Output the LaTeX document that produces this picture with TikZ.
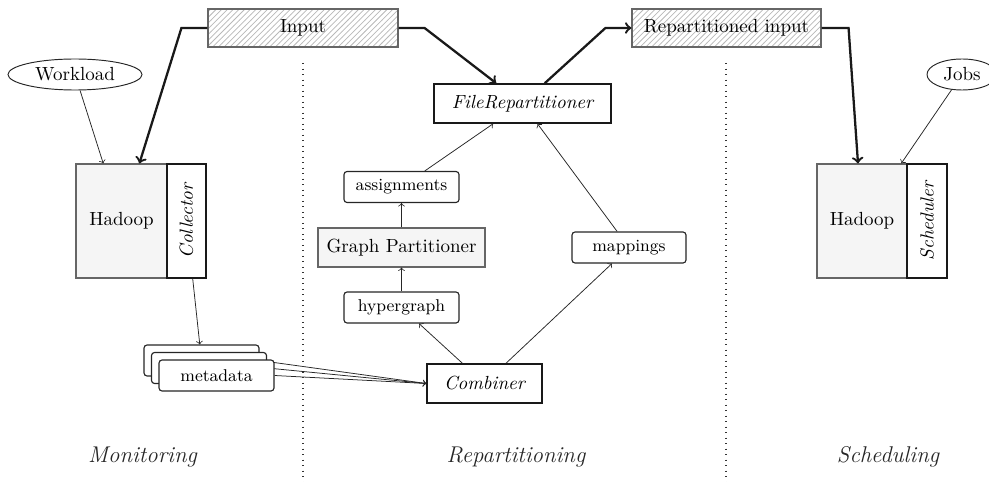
\documentclass[tikz,border=0pt]{standalone}
\usetikzlibrary{shapes.geometric,patterns,backgrounds}
\def\upx{0.5263pt}
\begin{document}
\begin{tikzpicture}[x=0.5263pt,y=-0.5263pt,
  hatchbox/.style={draw=black!60, line width=0.6pt, pattern=north east lines, pattern color=black!28, minimum height=38*\upx, inner sep=0pt},
  ellip/.style={ellipse, draw=black!85, line width=0.5pt, minimum height=31*\upx, inner sep=0pt},
  hbox/.style={draw=black!60, line width=0.6pt, fill=black!4, minimum height=114*\upx, inner sep=0pt},
  plugbox/.style={draw=black!90, line width=0.8pt, fill=white, rotate=90, minimum width=114*\upx, inner sep=0pt, font=\itshape},
  rbox/.style={draw=black!85, line width=0.6pt, fill=white, rounded corners=1.6pt, minimum width=115*\upx, minimum height=31*\upx, inner sep=0pt, font=\small},
  mainbox/.style={draw=black!90, line width=0.8pt, fill=white, minimum height=39*\upx, inner sep=0pt, font=\itshape},
  gpbox/.style={draw=black!60, line width=0.6pt, fill=black!4, minimum height=39*\upx, inner sep=0pt},
  conn/.style={->, line width=0.4pt, black!85},
  flow/.style={->, line width=1.2pt, black!90},
  sepline/.style={line width=0.8pt, dash pattern=on 0.5pt off 2.4pt, black!80},
  phase/.style={font=\large\itshape, black!85}]
\useasboundingbox (0,0) rectangle (989,482);

% top data boxes
\node[hatchbox, minimum width=190*\upx] (input) at (303,28) {Input};
\node[hatchbox, minimum width=189*\upx] (repin) at (726.5,28) {Repartitioned input};

% separators
\coordinate (s1t) at (303,63); \coordinate (s1b) at (303,482);
\coordinate (s2t) at (726,63); \coordinate (s2b) at (726,482);
\draw[sepline] (s1t) -- (s1b);
\draw[sepline] (s2t) -- (s2b);

% monitoring
\node[ellip, minimum width=134*\upx] (workload) at (75,74.5) {Workload};
\node[hbox, minimum width=91*\upx] (hadoopA) at (121.5,221) {Hadoop};
\node[plugbox, minimum height=39*\upx] (collector) at (186.5,221) {Collector};
\node[rbox] (meta1) at (201.5,360.5) {};
\node[rbox] (meta2) at (209,368) {};
\node[rbox] (meta3) at (216.5,375.5) {metadata};

% repartitioning
\node[mainbox, minimum width=177*\upx] (filerep) at (522.5,103.5) {FileRepartitioner};
\node[rbox] (assign) at (401.5,187) {assignments};
\node[gpbox, minimum width=167*\upx] (gp) at (401.5,247.5) {Graph Partitioner};
\node[rbox] (hyper) at (401.5,307.5) {hypergraph};
\node[rbox, minimum width=114*\upx] (mappings) at (629,247.5) {mappings};
\node[mainbox, minimum width=115*\upx] (combiner) at (484.5,383.5) {Combiner};

% scheduling
\node[ellip, minimum width=70*\upx] (jobs) at (962,74.5) {Jobs};
\node[hbox, minimum width=90*\upx] (hadoopB) at (862,221) {Hadoop};
\node[plugbox, minimum height=40*\upx] (scheduler) at (927,221) {Scheduler};

% phase labels
\node[phase] (mon) at (142.5,457) {Monitoring};
\node[phase] (rep) at (516,457) {Repartitioning};
\node[phase] (sch) at (888,457) {Scheduling};

% thick data flow
\draw[flow] (input.west) -- ++(-26,0) -- (hadoopA);
\draw[flow] (input.east) -- ++(26,0) -- (filerep);
\draw[flow] (filerep) -- ([xshift=-26*\upx]repin.west) -- (repin.west);
\draw[flow] (repin.east) -- ++(27,0) -- (hadoopB);

% thin connectors
\draw[conn] (workload) -- (hadoopA);
\draw[conn] (jobs) -- (hadoopB);
\draw[conn] (collector) -- (meta1);
\draw[conn] (hyper) -- (gp);
\draw[conn] (gp) -- (assign);
\draw[conn] (assign) -- (filerep);
\draw[conn] (combiner) -- (hyper);
\draw[conn] (combiner) -- (mappings);
\draw[conn] (mappings) -- (filerep);
\begin{pgfonlayer}{background}
\draw[conn] (meta1.east) -- (combiner.west);
\draw[conn] (meta2.east) -- (combiner.west);
\draw[conn] (meta3.east) -- (combiner.west);
\end{pgfonlayer}
\end{tikzpicture}
\end{document}
